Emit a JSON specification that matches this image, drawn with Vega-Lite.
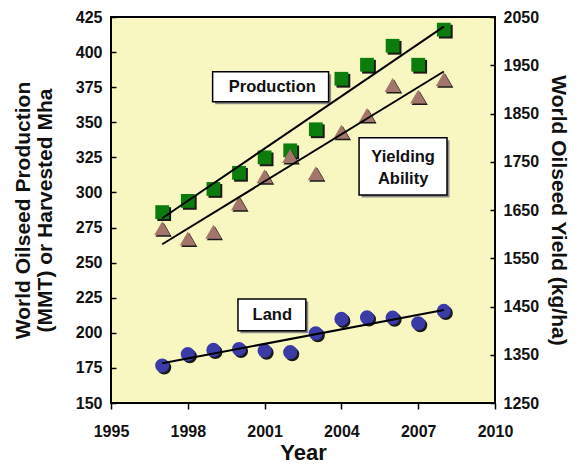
{
  "$schema": "https://vega.github.io/schema/vega-lite/v6.json",
  "width": 384,
  "height": 386,
  "autosize": {"type": "none"},
  "padding": {"left": 111, "top": 17, "right": 84, "bottom": 61},
  "background": "white",
  "config": {
    "font": "Liberation Sans",
    "view": {"fill": "#f9f7c1", "stroke": "#000000", "strokeWidth": 2},
    "axis": {
      "labelFont": "Liberation Sans", "labelFontWeight": "bold", "labelFontSize": 16, "labelColor": "#111111",
      "labelOverlap": false, "labelFlush": false,
      "titleFont": "Liberation Sans", "titleFontWeight": "bold", "titleFontSize": 21, "titleColor": "#111111",
      "grid": false, "domain": false, "tickColor": "#000000", "tickWidth": 1.5
    }
  },
  "datasets": {
    "production": [
      {"year": 1997, "value": 286}, {"year": 1998, "value": 294}, {"year": 1999, "value": 302.5},
      {"year": 2000, "value": 314}, {"year": 2001, "value": 325}, {"year": 2002, "value": 330},
      {"year": 2003, "value": 345}, {"year": 2004, "value": 381}, {"year": 2005, "value": 391},
      {"year": 2006, "value": 404.5}, {"year": 2007, "value": 391}, {"year": 2008, "value": 416}
    ],
    "land": [
      {"year": 1997, "value": 176.7}, {"year": 1998, "value": 184.8}, {"year": 1999, "value": 187.8},
      {"year": 2000, "value": 188.5}, {"year": 2001, "value": 187.3}, {"year": 2002, "value": 186.2},
      {"year": 2003, "value": 199.7}, {"year": 2004, "value": 209.9}, {"year": 2005, "value": 211},
      {"year": 2006, "value": 210.8}, {"year": 2007, "value": 206.8}, {"year": 2008, "value": 215.6}
    ],
    "yield": [
      {"year": 1997, "value": 1612}, {"year": 1998, "value": 1591}, {"year": 1999, "value": 1605},
      {"year": 2000, "value": 1664}, {"year": 2001, "value": 1720}, {"year": 2002, "value": 1762},
      {"year": 2003, "value": 1726}, {"year": 2004, "value": 1812}, {"year": 2005, "value": 1847},
      {"year": 2006, "value": 1909}, {"year": 2007, "value": 1885}, {"year": 2008, "value": 1921}
    ],
    "trendLeft": [
      {"series": "Production", "year": 1997, "value": 281.6}, {"series": "Production", "year": 2008, "value": 418.1},
      {"series": "Land", "year": 1997, "value": 178.3}, {"series": "Land", "year": 2008, "value": 216.3}
    ],
    "trendRight": [
      {"series": "Yielding Ability", "year": 1997, "value": 1579}, {"series": "Yielding Ability", "year": 2008, "value": 1937}
    ],
    "boxes": [
      {"label": "Production", "year": 1998.97, "year2": 2003.5, "value": 364.7, "value2": 386.0},
      {"label": "Yielding Ability", "year": 2004.69, "year2": 2008.125, "value": 298.2, "value2": 339.0},
      {"label": "Land", "year": 1999.96, "year2": 2002.61, "value": 201.4, "value2": 224.1}
    ],
    "labels": [
      {"text": "Production", "year": 2001.3, "value": 375.4},
      {"text": "Yielding", "year": 2006.41, "value": 325.5},
      {"text": "Ability", "year": 2006.41, "value": 309.6},
      {"text": "Land", "year": 2001.3, "value": 212.8}
    ]
  },
  "layer": [
    {
      "encoding": {
        "x": {"field": "year", "type": "quantitative", "scale": {"domain": [1995, 2010], "nice": false, "zero": false},
          "axis": {"values": [1995, 1998, 2001, 2004, 2007, 2010], "format": "d", "tickSize": 6, "labelPadding": 14, "title": "Year", "titleFontSize": 22, "titlePadding": 3}},
        "y": {"field": "value", "type": "quantitative", "scale": {"domain": [150, 425], "nice": false, "zero": false},
          "axis": {"values": [150, 175, 200, 225, 250, 275, 300, 325, 350, 375, 400, 425], "format": "d", "tickSize": -5, "labelPadding": 14,
            "title": ["World Oilseed Production", "(MMT) or Harvested Mha"], "titleLineHeight": 22, "titlePadding": 20}}
      },
      "layer": [
        {
          "data": {"name": "boxes"},
          "mark": {"type": "rect", "fill": "#8a8a8a", "xOffset": 2.5, "x2Offset": 2.5, "yOffset": 2.5, "y2Offset": 2.5},
          "encoding": {"x2": {"field": "year2"}, "y2": {"field": "value2"}}
        },
        {
          "data": {"name": "boxes"},
          "mark": {"type": "rect", "fill": "#ffffff", "stroke": "#000000", "strokeWidth": 1.5},
          "encoding": {"x2": {"field": "year2"}, "y2": {"field": "value2"}}
        },
        {
          "data": {"name": "labels"},
          "mark": {"type": "text", "font": "Liberation Sans", "fontWeight": "bold", "fontSize": 16.5, "color": "#111111", "align": "center", "baseline": "middle"},
          "encoding": {"text": {"field": "text"}}
        },
        {
          "data": {"name": "production"},
          "mark": {"type": "point", "shape": "square", "filled": true, "size": 190, "color": "#1a1a1a", "opacity": 1, "xOffset": 2, "yOffset": 2}
        },
        {
          "data": {"name": "production"},
          "mark": {"type": "point", "shape": "square", "filled": true, "size": 190, "color": "#0c7c0c", "opacity": 1}
        },
        {
          "data": {"name": "land"},
          "mark": {"type": "point", "shape": "circle", "filled": true, "size": 200, "color": "#1a1a1a", "opacity": 1, "xOffset": 2, "yOffset": 2}
        },
        {
          "data": {"name": "land"},
          "mark": {"type": "point", "shape": "circle", "filled": true, "size": 200, "color": "#3b3ba8", "opacity": 1}
        },
        {
          "data": {"name": "trendLeft"},
          "mark": {"type": "line", "color": "#000000", "strokeWidth": 2},
          "encoding": {"detail": {"field": "series"}}
        }
      ]
    },
    {
      "encoding": {
        "x": {"field": "year", "type": "quantitative"},
        "y": {"field": "value", "type": "quantitative", "scale": {"domain": [1250, 2050], "nice": false, "zero": false},
          "axis": {"orient": "right", "values": [1250, 1350, 1450, 1550, 1650, 1750, 1850, 1950, 2050], "format": "d", "tickSize": -5, "labelPadding": 13,
            "title": "World Oilseed Yield (kg/ha)", "titleAngle": 90, "titlePadding": 9}}
      },
      "layer": [
        {
          "data": {"name": "yield"},
          "mark": {"type": "point", "shape": "triangle-up", "filled": true, "size": 260, "color": "#1a1a1a", "opacity": 1, "xOffset": 1.5, "yOffset": 1.5}
        },
        {
          "data": {"name": "yield"},
          "mark": {"type": "point", "shape": "triangle-up", "filled": true, "size": 260, "color": "#a3766c", "opacity": 1}
        },
        {
          "data": {"name": "trendRight"},
          "mark": {"type": "line", "color": "#000000", "strokeWidth": 2}
        }
      ]
    }
  ],
  "resolve": {"scale": {"y": "independent"}}
}
